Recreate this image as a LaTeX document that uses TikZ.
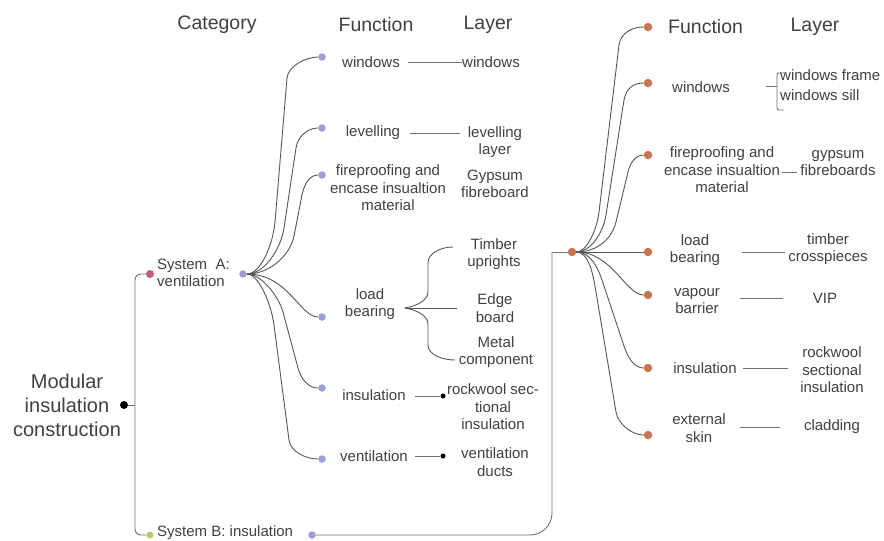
\documentclass[tikz,border=0pt]{standalone}
\usepackage{fontspec}
\setmainfont{Liberation Sans}
\definecolor{txt}{HTML}{404040}
\definecolor{ln}{HTML}{707070}
\definecolor{cv}{HTML}{555555}
\definecolor{pur}{HTML}{9C9CD8}
\definecolor{org}{HTML}{C8744E}
\definecolor{pnk}{HTML}{C45A78}
\definecolor{grn}{HTML}{B4CC6A}
\begin{document}
\begin{tikzpicture}[x=1pt,y=-1pt,
 hdr/.style={text=txt,font=\fontsize{19.5}{23}\selectfont,inner sep=0},
 lbl/.style={text=txt,font=\fontsize{15}{17.5}\selectfont,align=center,inner sep=0},
 pdot/.style={circle,fill=pur,inner sep=0,minimum size=7.5},
 odot/.style={circle,fill=org,inner sep=0,minimum size=8.5},
 bdot/.style={circle,fill=black,inner sep=0,minimum size=5},
 conn/.style={draw=ln,line width=0.9},
 curve/.style={draw=cv,line width=0.9}]
\useasboundingbox (0,0) rectangle (884,541);

% headers
\node[hdr] (hcat) at (217,25) {Category};
\node[hdr] (hfun) at (376,25) {Function};
\node[hdr] (hlay) at (488,25) {Layer};
\node[hdr,anchor=west] (hfun2) at (668,27) {Function};
\node[hdr] (hlay2) at (815,27) {Layer};

% root
\node[text=txt,font=\fontsize{20}{24}\selectfont,align=center,inner sep=0] (root) at (67,405) {Modular\\insulation\\construction};
\node[bdot,minimum size=8] (rootd) at (124,405) {};
\coordinate (trunk) at (135,405);

% systems
\node[circle,fill=pnk,inner sep=0,minimum size=8] (sa) at (150,274) {};
\node[lbl,align=left,anchor=west] (satxt) at (157,273) {System\ \ A:\\ventilation};
\node[pdot] (hubA) at (243,274) {};
\node[circle,fill=grn,inner sep=0,minimum size=7] (sb) at (150,535) {};
\node[lbl,anchor=west] (sbtxt) at (157,533) {System B: insulation};
\node[pdot] (sbp) at (312,535) {};
\node[odot] (hubB) at (572,252) {};
\coordinate (cB) at (552,252);

\draw[conn] (rootd) -- (trunk);
\draw[conn,rounded corners=6] (sa) -| (trunk) |- (sb);
\draw[conn,rounded corners=22] (sbp) -| (cB);
\draw[conn] (cB) -- (hubB);

% left function dots
\node[pdot] (lwinD) at (322,57) {};
\node[pdot] (llevD) at (322,128) {};
\node[pdot] (lfireD) at (322,175) {};
\node[pdot] (lloadD) at (322,317) {};
\node[pdot] (linsD) at (322,388) {};
\node[pdot] (lventD) at (322,459) {};

% left function texts
\node[lbl] (lwin) at (371,62) {windows};
\node[lbl] (llev) at (373,133) {levelling};
\node[lbl] (lfire) at (388,188) {fireproofing and\\encase insualtion\\material};
\node[lbl] (lload) at (370,304) {load\\bearing};
\node[lbl] (lins) at (374,395) {insulation};
\node[lbl] (lvent) at (374,456) {ventilation};

% left layer texts
\node[lbl] (lwinL) at (491,62) {windows};
\node[lbl] (llevL) at (495,142) {levelling\\layer};
\node[lbl] (lfireL) at (495,184) {Gypsum\\fibreboard};
\node[lbl] (ltim) at (494,254) {Timber\\uprights};
\node[lbl] (ledge) at (495,308) {Edge\\board};
\node[lbl] (lmetal) at (496,352) {Metal\\component};
\node[lbl] (lrock) at (493,407) {rockwool sec-\\tional\\insulation};
\node[lbl] (lduct) at (495,462) {ventilation\\ducts};

% left curves
\draw[curve] (hubA) .. controls +(18,0) and +(-2,22) .. (275,222) -- (287,78) .. controls +(1,-12) and +(-16,0) .. (lwinD);
\draw[curve] (hubA) .. controls +(22,0) and +(-3,20) .. (284,228) -- (296,148) .. controls +(1.7,-12) and +(-14,0) .. (llevD);
\draw[curve] (hubA) .. controls +(28,0) and +(-3.5,18) .. (294,236) -- (302,195) .. controls +(2.4,-12) and +(-12,0) .. (lfireD);
\draw[curve] (hubA) .. controls +(45,0) and +(-22,0) .. (lloadD);
\draw[curve] (hubA) .. controls +(18,0) and +(-5,-17) .. (283,312) -- (298,368) .. controls +(3,11) and +(-14,0) .. (linsD);
\draw[curve] (hubA) .. controls +(16,0) and +(-2.5,-20) .. (274,325) -- (289,440) .. controls +(1.6,12) and +(-16,0) .. (lventD);

% left connectors
\coordinate (lwA) at (408,62);
\draw[conn] (lwA) -- (lwinL.west);
\coordinate (llA) at (410,133);
\coordinate (llB) at (460,133);
\draw[conn] (llA) -- (llB);
\node[bdot] (linsB) at (443,396) {};
\node[bdot] (lventB) at (443,456) {};
\coordinate (liA) at (415,396);
\coordinate (lvA) at (415,456);
\draw[conn] (liA) -- (linsB);
\draw[conn] (lvA) -- (lventB);

% brace
\coordinate (bp) at (405,308);
\coordinate (bTop) at (453,247);
\coordinate (bMid) at (457,308);
\coordinate (bBot) at (455,360);
\draw[curve] (bp) .. controls +(12,-2) and +(0,8) .. (428,292) -- (428,263) .. controls +(0,-10) and +(-12,0) .. (bTop);
\draw[curve] (bp) -- (bMid);
\draw[curve] (bp) .. controls +(12,2) and +(0,-8) .. (428,324) -- (428,345) .. controls +(0,10) and +(-12,0) .. (bBot);

% right function dots
\node[odot] (rFunD) at (648,27) {};
\node[odot] (rwinD) at (648,83) {};
\node[odot] (rfireD) at (648,155) {};
\node[odot] (rloadD) at (648,252) {};
\node[odot] (rvapD) at (648,295) {};
\node[odot] (rinsD) at (648,368) {};
\node[odot] (rextD) at (648,435) {};

% right function texts
\node[lbl] (rwin) at (701,87) {windows};
\node[lbl] (rfire) at (722,170) {fireproofing and\\encase insualtion\\material};
\node[lbl] (rload) at (695,250) {load\\bearing};
\node[lbl] (rvap) at (697,301) {vapour\\barrier};
\node[lbl] (rins) at (705,368) {insulation};
\node[lbl] (rext) at (699,428) {external\\skin};

% right layer texts
\node[lbl,anchor=west] (rwframe) at (780,75) {windows frame};
\node[lbl,anchor=west] (rwsill) at (780,95) {windows sill};
\node[lbl] (rgyp) at (838,163) {gypsum\\fibreboards};
\node[lbl] (rtim) at (828,249) {timber\\crosspieces};
\node[lbl] (rvip) at (825,298) {VIP};
\node[lbl] (rrock) at (832,370) {rockwool\\sectional\\insulation};
\node[lbl] (rclad) at (832,427) {cladding};

% right curves
\draw[curve] (hubB) .. controls +(14,0) and +(-2.5,20) .. (599,212) -- (619,45) .. controls +(1.7,-12) and +(-16,0) .. (rFunD);
\draw[curve] (hubB) .. controls +(18,0) and +(-3,19) .. (606,215) -- (624,100) .. controls +(2,-12) and +(-14,0) .. (rwinD);
\draw[curve] (hubB) .. controls +(26,0) and +(-4,16) .. (616,222) -- (628,172) .. controls +(2.4,-10) and +(-12,0) .. (rfireD);
\draw[curve] (hubB) -- (rloadD);
\draw[curve] (hubB) .. controls +(40,0) and +(-22,0) .. (rvapD);
\draw[curve] (hubB) .. controls +(18,0) and +(-5,-16) .. (603,283) -- (624,346) .. controls +(3.5,11) and +(-14,0) .. (rinsD);
\draw[curve] (hubB) .. controls +(16,0) and +(-3,-20) .. (596,292) -- (616,412) .. controls +(2,12) and +(-16,0) .. (rextD);

% right connectors
\coordinate (rwA) at (766,86);
\coordinate (rwB) at (777,86);
\draw[conn] (rwA) -- (rwB);
\draw[conn,rounded corners=2] (784,73) -- (777,73) -- (777,110) -- (784,110);
\coordinate (rfA) at (782,172);
\coordinate (rfB) at (797,172);
\draw[conn] (rfA) -- (rfB);
\coordinate (rlA) at (742,252);
\coordinate (rlB) at (785,252);
\draw[conn] (rlA) -- (rlB);
\coordinate (rvA) at (740,298);
\coordinate (rvB) at (783,298);
\draw[conn] (rvA) -- (rvB);
\coordinate (riA) at (743,368);
\coordinate (riB) at (788,368);
\draw[conn] (riA) -- (riB);
\coordinate (reA) at (740,427);
\coordinate (reB) at (780,427);
\draw[conn] (reA) -- (reB);
\end{tikzpicture}
\end{document}
